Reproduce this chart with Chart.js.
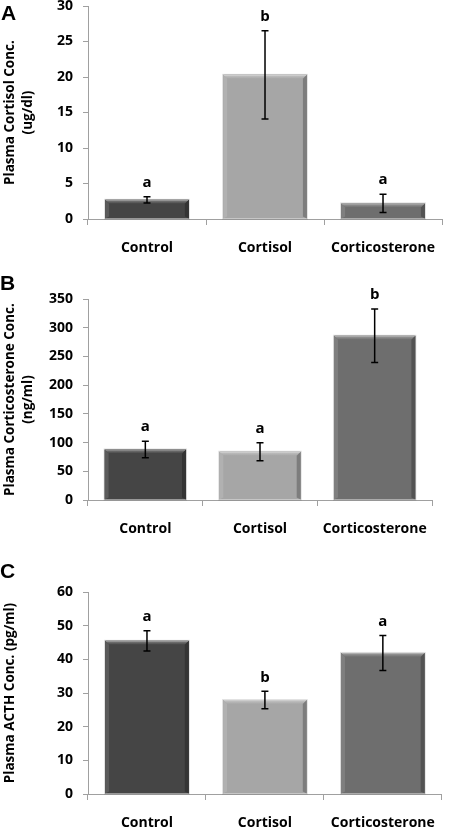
<!DOCTYPE html>
<html><head><meta charset="utf-8">
<script src="https://cdn.jsdelivr.net/npm/chart.js@4/dist/chart.umd.min.js"></script>
<style>
html,body{margin:0;padding:0;background:#fff;width:450px;height:827px;overflow:hidden;position:relative}
.wrap{position:absolute;left:0;width:450px}
canvas{display:block}
</style></head><body>
<div class="wrap" id="wA"><canvas id="cA"></canvas></div>
<div class="wrap" id="wB"><canvas id="cB"></canvas></div>
<div class="wrap" id="wC"><canvas id="cC"></canvas></div>
<script>
// ---- data ----
const categories = ['Control', 'Cortisol', 'Corticosterone'];

const cortisolMean = [2.7, 20.3, 2.2];
const cortisolSem = [0.45, 6.2, 1.3];
const cortisolLetters = ['a', 'b', 'a'];
const cortisolTicks = [0, 5, 10, 15, 20, 25, 30];

const corticosteroneMean = [88, 84, 286];
const corticosteroneSem = [14.5, 15.5, 46.5];
const corticosteroneLetters = ['a', 'a', 'b'];
const corticosteroneTicks = [0, 50, 100, 150, 200, 250, 300, 350];

const acthMean = [45.5, 27.9, 41.9];
const acthSem = [3.0, 2.6, 5.2];
const acthLetters = ['a', 'b', 'a'];
const acthTicks = [0, 10, 20, 30, 40, 50, 60];

const barColors = ['#454545', '#a6a6a6', '#6e6e6e'];

// ---- helpers ----
function mix(hex, target, t) {
  const n = parseInt(hex.slice(1), 16);
  const r = (n >> 16) & 255, g = (n >> 8) & 255, b = n & 255;
  const tv = target === 'w' ? 255 : 0;
  const f = v => Math.round(v + (tv - v) * t);
  return 'rgb(' + f(r) + ',' + f(g) + ',' + f(b) + ')';
}

const FONT = '"Open Sans", Lato, sans-serif';

const decorPlugin = {
  id: 'decor',
  afterDatasetsDraw(chart, args, opts) {
    const ctx = chart.ctx;
    const meta = chart.getDatasetMeta(0);
    const yScale = chart.scales.y;
    ctx.save();
    meta.data.forEach((bar, i) => {
      const p = bar.getProps(['x', 'y', 'base', 'width'], true);
      const L = p.x - p.width / 2, R = p.x + p.width / 2, T = p.y, B = p.base;
      const c = barColors[i];
      const bv = 4;
      // top bevel
      const gt = ctx.createLinearGradient(0, T, 0, T + bv);
      gt.addColorStop(0, mix(c, 'w', 0.35));
      gt.addColorStop(1, c);
      ctx.fillStyle = gt;
      ctx.beginPath();
      ctx.moveTo(L, T); ctx.lineTo(R, T); ctx.lineTo(R - bv, T + bv); ctx.lineTo(L + bv, T + bv); ctx.closePath();
      ctx.fill();
      // left bevel
      ctx.fillStyle = mix(c, 'w', 0.12);
      ctx.beginPath();
      ctx.moveTo(L, T); ctx.lineTo(L + bv, T + bv); ctx.lineTo(L + bv, B - 2); ctx.lineTo(L, B); ctx.closePath();
      ctx.fill();
      // right bevel
      ctx.fillStyle = mix(c, 'b', 0.25);
      ctx.beginPath();
      ctx.moveTo(R, T); ctx.lineTo(R - bv, T + bv); ctx.lineTo(R - bv, B - 2); ctx.lineTo(R, B); ctx.closePath();
      ctx.fill();
      // top highlight line
      ctx.strokeStyle = mix(c, 'w', 0.45);
      ctx.lineWidth = 1;
      ctx.beginPath();
      ctx.moveTo(L + 1, T + 0.5); ctx.lineTo(R - 1, T + 0.5);
      ctx.stroke();
      // soft outline
      ctx.strokeStyle = 'rgba(0,0,0,0.12)';
      ctx.strokeRect(L - 0.5, T - 0.5, p.width + 1, B - T + 1);

      // error bar
      const m = opts.mean[i], s = opts.sem[i];
      const yTop = yScale.getPixelForValue(m + s);
      const yBot = yScale.getPixelForValue(m - s);
      ctx.strokeStyle = '#000';
      ctx.lineWidth = 1.5;
      ctx.beginPath();
      ctx.moveTo(p.x, yTop); ctx.lineTo(p.x, yBot);
      ctx.moveTo(p.x - 3.5, yTop); ctx.lineTo(p.x + 3.5, yTop);
      ctx.moveTo(p.x - 3.5, yBot); ctx.lineTo(p.x + 3.5, yBot);
      ctx.stroke();

      // significance letter
      ctx.fillStyle = '#000';
      ctx.font = 'bold 15px ' + FONT;
      ctx.textAlign = 'center';
      ctx.textBaseline = 'middle';
      ctx.fillText(opts.letters[i], p.x, yTop - 14);
    });
    // panel letter
    ctx.fillStyle = '#000';
    ctx.font = 'bold 21px "Liberation Sans", Arial, sans-serif';
    ctx.textAlign = 'left';
    ctx.textBaseline = 'alphabetic';
    ctx.fillText(opts.panel, opts.panelX, opts.panelBase);
    ctx.restore();
  }
};

function makeChart(id, wrapId, plotTop, plotH, rightEdge, mean, sem, letters, ticks, title, panel, panelX, panelBaseline) {
  const padTop = 40, xH = 40;
  const h = padTop + plotH + xH;
  const canvasTop = plotTop - padTop;
  const w = document.getElementById(wrapId);
  w.style.top = canvasTop + 'px';
  w.style.height = h + 'px';
  const cv = document.getElementById(id);
  cv.width = 450; cv.height = h;
  cv.style.width = '450px'; cv.style.height = h + 'px';
  const step = ticks[1] - ticks[0];
  return new Chart(cv, {
    type: 'bar',
    data: {
      labels: categories,
      datasets: [{
        data: mean,
        backgroundColor: barColors,
        borderWidth: 0,
        barPercentage: 0.71,
        categoryPercentage: 1.0
      }]
    },
    options: {
      responsive: false,
      animation: false,
      devicePixelRatio: 1,
      layout: { padding: { top: padTop, left: 0, right: 450 - rightEdge, bottom: 0 } },
      plugins: {
        legend: { display: false },
        tooltip: { enabled: false },
        decor: { mean, sem, letters, panel, panelX, panelBase: panelBaseline - canvasTop }
      },
      scales: {
        x: {
          afterFit(s) { s.height = xH; },
          grid: { drawOnChartArea: false, drawTicks: true, tickLength: 6, color: '#a0a0a0', offset: true },
          border: { color: '#a0a0a0', width: 1 },
          ticks: { color: '#000', padding: 15, font: { family: FONT, size: 14, weight: 'bold' } }
        },
        y: {
          min: ticks[0], max: ticks[ticks.length - 1],
          afterFit(s) { s.width = 88; },
          afterBuildTicks(s) { s.ticks = ticks.map(v => ({ value: v })); },
          grid: { drawOnChartArea: false, drawTicks: true, tickLength: 5, color: '#a0a0a0' },
          border: { color: '#a0a0a0', width: 1 },
          ticks: { color: '#000', padding: 10, stepSize: step, font: { family: FONT, size: 14, weight: 'bold' } },
          title: {
            display: true, text: title, color: '#000',
            font: { family: FONT, size: 13.5, weight: 'bold', lineHeight: 18.5 / 13.5 },
            padding: { top: 0.5, bottom: 0 }
          }
        }
      }
    },
    plugins: [decorPlugin]
  });
}

makeChart('cA', 'wA', 6, 213, 450, cortisolMean, cortisolSem, cortisolLetters, cortisolTicks,
  ['Plasma Cortisol Conc.', '(ug/dl)'], 'A', 1, 20);
makeChart('cB', 'wB', 299, 201, 432, corticosteroneMean, corticosteroneSem, corticosteroneLetters, corticosteroneTicks,
  ['Plasma Corticosterone Conc.', '(ng/ml)'], 'B', 0, 290);
makeChart('cC', 'wC', 592, 202, 449, acthMean, acthSem, acthLetters, acthTicks,
  'Plasma ACTH Conc. (pg/ml)', 'C', 0, 578);
</script>
</body></html>
